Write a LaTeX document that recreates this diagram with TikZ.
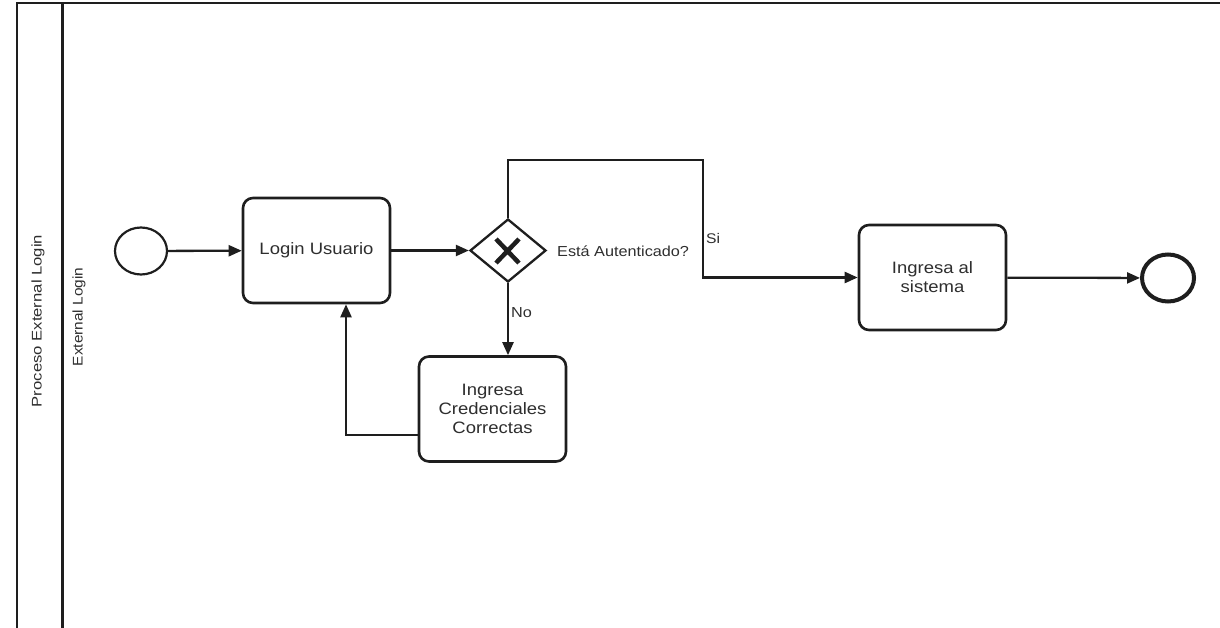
\documentclass[tikz,border=0pt]{standalone}
\usepackage{fontspec}
\setmainfont{Liberation Sans}
\usetikzlibrary{shapes.geometric,arrows.meta}
\definecolor{ink}{HTML}{1E1E1E}
\definecolor{txt}{HTML}{2E2E2E}
\newcommand{\wx}[1]{\scalebox{1.12}[1]{#1}}
\tikzset{
  task/.style={draw=ink, line width=2.6pt, rounded corners=10pt, fill=white,
    minimum width=147pt, minimum height=105pt, inner sep=0pt, align=center,
    text=txt, font=\fontsize{16.5}{19}\selectfont},
  flow/.style={draw=ink, line width=2.3pt, -{Triangle[length=13pt,width=11pt]}},
  lbl/.style={text=txt, inner sep=0pt},
  gateway/.style={draw=ink, line width=2.3pt, shape=diamond, inner sep=0pt,
    minimum width=76pt, minimum height=63pt, fill=white},
  pool/.style={draw=ink, line width=2pt},
}
\begin{document}
\begin{tikzpicture}[x=1pt,y=-1pt]
\useasboundingbox (0,0) rectangle (1220,628);
% pool and lane
\draw[pool] (1220,3) -- (17,3) -- (17,628);
\draw[pool, line width=3pt] (62,3) -- (62,628);
\node[lbl, rotate=90, font=\fontsize{14}{16}\selectfont] (poolname) at (38,321) {\scalebox{1.19}[1]{Proceso External Login}};
\node[lbl, rotate=90, font=\fontsize{14}{16}\selectfont] (lanename) at (79,317) {\scalebox{1.1}[1]{External Login}};
% events
\node[draw=ink, line width=2.2pt, ellipse, minimum width=52pt, minimum height=47pt, inner sep=0pt] (start) at (141,251) {};
\node[draw=ink, line width=4pt, ellipse, minimum width=52pt, minimum height=47pt, inner sep=0pt] (end) at (1168,278) {};
% tasks
\node[task] (login) at (316.5,250.5) {\wx{Login Usuario}};
\node[task] (sist) at (932.5,277.5) {\wx{Ingresa al}\\\wx{sistema}};
\node[task] (cred) at (492.5,409) {\wx{Ingresa}\\\wx{Credenciales}\\\wx{Correctas}};
% gateway
\node[gateway] (gw) at (508,250.5) {};
\draw[ink, line width=4.5pt] (496,239) -- (519,263) (519,239) -- (496,263);
\node[lbl, anchor=west, font=\fontsize{14.5}{17}\selectfont] (gwlabel) at (557,251) {\wx{Está Autenticado?}};
% flows
\draw[flow] (start) -- (login);
\draw[flow] (login) -- (gw);
\coordinate (c1) at (703,160);
\draw[flow] (gw.north) |- (c1) |- (sist.west);
\node[lbl, anchor=west, font=\fontsize{14}{16}\selectfont] (si) at (706,238) {\wx{Si}};
\draw[flow] (gw.south) -- (gw.south |- cred.north);
\node[lbl, anchor=west, font=\fontsize{14.5}{17}\selectfont] (no) at (511,313) {\wx{No}};
\coordinate (c2) at (346,435);
\draw[flow] (cred.west |- c2) -- (c2) -- (c2 |- login.south);
\draw[flow] (sist) -- (end);
\end{tikzpicture}
\end{document}
